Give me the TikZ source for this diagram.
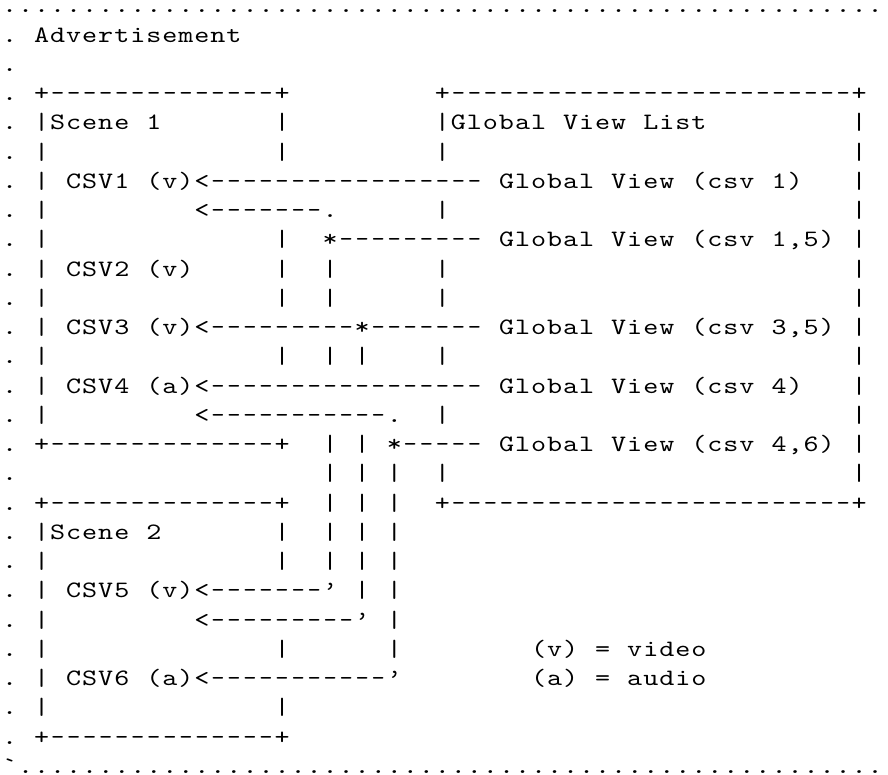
\documentclass[tikz,border=0pt]{standalone}
\usepackage{fontspec}
\newfontfamily\asciimono{lmmono10-regular.otf}[FakeStretch=1.22]

% fixed character cell: every glyph sits centred in a box of this width
\newlength\cw
\setlength\cw{16.03pt}
\newcommand\chars[1]{\charsstep#1\relax}
\def\charsstep#1{\ifx#1\relax\else\makebox[\cw][c]{#1}\expandafter\charsstep\fi}
\newcommand\reps[2]{\foreach\rr in {1,...,#1}{\makebox[\cw][c]{#2}}}
% hyphen for the dashed runs, leaving a clear gap between cells
\newcommand\dashglyph{\scalebox{0.88}[1]{-}}

% text run placed on the character grid: name, row, column, content
\newcommand\segx[4]{\node[cell] (#1) at ({1.585+16.03*#3},{761-29.24*#2}) {#4};}
\newcommand\seg[4]{\segx{#1}{#2}{#3}{\chars{#4}}}

\begin{document}
\begin{tikzpicture}[x=1pt,y=1pt,
  cell/.style={anchor=base west, inner sep=0pt, outer sep=0pt,
    font=\asciimono\fontsize{23.5}{23.5}\selectfont, text=black}]
\useasboundingbox (0,0) rectangle (888,774);
\fill[white] (0,0) rectangle (888,774);

% dotted frame: top line, left margin, bottom line
\foreach \c in {0,...,54}{
  \segx{t\c}{0}{\c}{\chars{.}}}
\foreach \r in {1,...,25}{
  \segx{g\r}{\r}{0}{\chars{.}}}
\segx{b0}{26}{0}{\chars{`}}
\foreach \c in {1,...,54}{
  \segx{b\c}{26}{\c}{\chars{.}}}

% title
\seg{r1a}{1}{2}{Advertisement}

% row 3: box tops
\segx{r3a}{3}{2}{\chars{+}\reps{14}{\dashglyph}\chars{+}}
\segx{r3b}{3}{27}{\chars{+}\reps{25}{\dashglyph}\chars{+}}

% row 4
\seg{r4a}{4}{2}{|Scene~1}
\seg{r4b}{4}{17}{|}
\seg{r4c}{4}{27}{|Global~View~List}
\seg{r4d}{4}{53}{|}

% row 5
\seg{r5a}{5}{2}{|}
\seg{r5b}{5}{17}{|}
\seg{r5c}{5}{27}{|}
\seg{r5d}{5}{53}{|}

% row 6
\seg{r6a}{6}{2}{|}
\segx{r6b}{6}{4}{\chars{CSV1~(v)<}\reps{17}{\dashglyph}\chars{~Global~View~(csv~1)}}
\seg{r6c}{6}{53}{|}

% row 7
\seg{r7a}{7}{2}{|}
\segx{r7b}{7}{12}{\chars{<}\reps{7}{\dashglyph}\chars{.}}
\seg{r7c}{7}{27}{|}
\seg{r7d}{7}{53}{|}

% row 8
\seg{r8a}{8}{2}{|}
\seg{r8b}{8}{17}{|}
\segx{r8c}{8}{20}{\chars{*}\reps{9}{\dashglyph}\chars{~Global~View~(csv~1,5)}}
\seg{r8d}{8}{53}{|}

% row 9
\seg{r9a}{9}{2}{|}
\seg{r9b}{9}{4}{CSV2~(v)}
\seg{r9c}{9}{17}{|~~|}
\seg{r9d}{9}{27}{|}
\seg{r9e}{9}{53}{|}

% row 10
\seg{r10a}{10}{2}{|}
\seg{r10b}{10}{17}{|~~|}
\seg{r10c}{10}{27}{|}
\seg{r10d}{10}{53}{|}

% row 11
\seg{r11a}{11}{2}{|}
\segx{r11b}{11}{4}{\chars{CSV3~(v)<}\reps{9}{\dashglyph}\chars{*}\reps{7}{\dashglyph}\chars{~Global~View~(csv~3,5)}}
\seg{r11c}{11}{53}{|}

% row 12
\seg{r12a}{12}{2}{|}
\seg{r12b}{12}{17}{|~~|~|}
\seg{r12c}{12}{27}{|}
\seg{r12d}{12}{53}{|}

% row 13
\seg{r13a}{13}{2}{|}
\segx{r13b}{13}{4}{\chars{CSV4~(a)<}\reps{17}{\dashglyph}\chars{~Global~View~(csv~4)}}
\seg{r13c}{13}{53}{|}

% row 14
\seg{r14a}{14}{2}{|}
\segx{r14b}{14}{12}{\chars{<}\reps{11}{\dashglyph}\chars{.}}
\seg{r14c}{14}{27}{|}
\seg{r14d}{14}{53}{|}

% row 15: bottom of Scene 1
\segx{r15a}{15}{2}{\chars{+}\reps{14}{\dashglyph}\chars{+}}
\segx{r15b}{15}{20}{\chars{|~|~*}\reps{5}{\dashglyph}\chars{~Global~View~(csv~4,6)}}
\seg{r15c}{15}{53}{|}

% row 16
\seg{r16a}{16}{20}{|~|~|}
\seg{r16b}{16}{27}{|}
\seg{r16c}{16}{53}{|}

% row 17: top of Scene 2, bottom of the list
\segx{r17a}{17}{2}{\chars{+}\reps{14}{\dashglyph}\chars{+}}
\seg{r17b}{17}{20}{|~|~|}
\segx{r17c}{17}{27}{\chars{+}\reps{25}{\dashglyph}\chars{+}}

% row 18
\seg{r18a}{18}{2}{|Scene~2}
\seg{r18b}{18}{17}{|~~|~|~|}

% row 19
\seg{r19a}{19}{2}{|}
\seg{r19b}{19}{17}{|~~|~|~|}

% row 20
\seg{r20a}{20}{2}{|}
\segx{r20b}{20}{4}{\chars{CSV5~(v)<}\reps{7}{\dashglyph}\chars{’}}
\seg{r20c}{20}{22}{|~|}

% row 21
\seg{r21a}{21}{2}{|}
\segx{r21b}{21}{12}{\chars{<}\reps{9}{\dashglyph}\chars{’}}
\seg{r21c}{21}{24}{|}

% row 22
\seg{r22a}{22}{2}{|}
\seg{r22b}{22}{17}{|}
\seg{r22c}{22}{24}{|}
\seg{r22d}{22}{33}{(v)~=~video}

% row 23
\seg{r23a}{23}{2}{|}
\segx{r23b}{23}{4}{\chars{CSV6~(a)<}\reps{11}{\dashglyph}\chars{’}}
\seg{r23c}{23}{33}{(a)~=~audio}

% row 24
\seg{r24a}{24}{2}{|}
\seg{r24b}{24}{17}{|}

% row 25: bottom of Scene 2
\segx{r25a}{25}{2}{\chars{+}\reps{14}{\dashglyph}\chars{+}}
\end{tikzpicture}
\end{document}
